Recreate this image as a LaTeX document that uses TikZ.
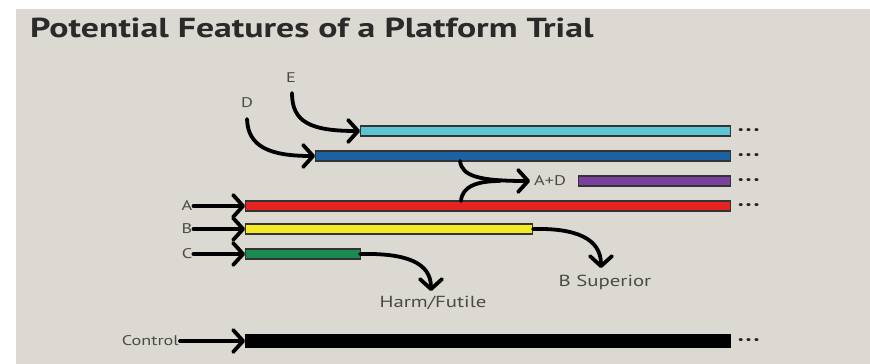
\documentclass[tikz,border=0pt]{standalone}
\usepackage{fontspec}
\setmainfont[FakeStretch=1.3]{PT Sans}
\usetikzlibrary{arrows.meta}
\definecolor{bg}{HTML}{DCD8D2}
\definecolor{ecol}{HTML}{5BC5D3}
\definecolor{dcol}{HTML}{1C62A3}
\definecolor{adcol}{HTML}{7B3F9E}
\definecolor{acol}{HTML}{E52320}
\definecolor{bcol}{HTML}{F2EA22}
\definecolor{ccol}{HTML}{1B8A50}
\definecolor{txt}{HTML}{2A2A2A}
\tikzset{
  bar/.style={draw=black!80, line width=1.3pt, minimum height=10pt, inner sep=0pt, anchor=west},
  arr/.style={line width=3.8pt, line cap=round, -{Straight Barb[length=10pt, width=22pt, line width=3.8pt, line cap=round, line join=round]}},
  lbl/.style={font=\fontsize{14}{16}\selectfont, text=txt!85, inner sep=1pt},
  biglbl/.style={font=\fontsize{16}{18}\selectfont, text=txt!85, inner sep=1pt},
  dots/.style={font=\fontsize{11}{12}\selectfont, anchor=west, inner sep=0pt, text=black!85},
}
\begin{document}
\begin{tikzpicture}[x=1pt,y=-1pt]
\useasboundingbox (0,0) rectangle (870,364);
\fill[white] (0,0) rectangle (870,364);
\fill[bg] (16,9) rectangle (870,364);
\node[anchor=base west, font=\bfseries\fontsize{27.5}{30}\selectfont, text=txt, inner sep=0pt] (title) at (30,37) {Potential Features of a Platform Trial};

% bars
\node[bar, fill=ecol, minimum width=370pt] (Ebar) at (360,131) {};
\node[bar, fill=dcol, minimum width=415pt] (Dbar) at (315,156) {};
\node[bar, fill=adcol, minimum width=152pt] (ADbar) at (578,181) {};
\node[bar, fill=acol, minimum width=485pt] (Abar) at (245,206) {};
\node[bar, fill=bcol, minimum width=287pt] (Bbar) at (245,229) {};
\node[bar, fill=ccol, minimum width=115pt] (Cbar) at (245,254) {};
\node[bar, fill=black, draw=black, minimum height=12pt, minimum width=485pt] (Ctlbar) at (245,341) {};

% dots
\node[dots] (Edots) at ([xshift=6pt]Ebar.east) {\textbullet\hspace{1.5pt}\textbullet\hspace{1.5pt}\textbullet};
\node[dots] (Ddots) at ([xshift=6pt]Dbar.east) {\textbullet\hspace{1.5pt}\textbullet\hspace{1.5pt}\textbullet};
\node[dots] (ADdots) at ([xshift=6pt]ADbar.east) {\textbullet\hspace{1.5pt}\textbullet\hspace{1.5pt}\textbullet};
\node[dots] (Adots) at ([xshift=6pt]Abar.east) {\textbullet\hspace{1.5pt}\textbullet\hspace{1.5pt}\textbullet};
\node[dots] (Ctldots) at ([xshift=6pt]Ctlbar.east) {\textbullet\hspace{1.5pt}\textbullet\hspace{1.5pt}\textbullet};

% labels
\node[lbl] (E) at (291,78) {E};
\node[lbl] (D) at (247,103) {D};
\node[lbl] (A) at (187,206) {A};
\node[lbl] (B) at (187,229) {B};
\node[lbl] (C) at (187,254) {C};
\node[lbl, anchor=west] (AD) at (533,181) {A+D};
\node[biglbl] (Bsup) at (605,282) {B Superior};
\node[biglbl] (Harm) at (433,303) {Harm/Futile};
\node[lbl, anchor=east] (Ctl) at (180,341) {Control};

\coordinate (Estart) at (292,93);
\coordinate (Dstart) at (247,119);
\coordinate (Dsplit) at (460,161);
\coordinate (Asplit) at (461,201);
\coordinate (Bend) at (533,229);
\coordinate (Cend) at (360,254);
\coordinate (Btip) at (601,268);
\coordinate (Ctip) at (431,291);

% arrows
\draw[arr] (Estart) .. controls (292,122) and (310,131) .. (Ebar.west);
\draw[arr] (Dstart) .. controls (248,147) and (270,156) .. (Dbar.west);
\draw[arr] (Dsplit) .. controls (462,176) and (478,181) .. ([xshift=-3pt]AD.west);
\draw[line width=3.8pt, line cap=round] (Asplit) .. controls (462,186) and (478,181) .. (500,181);
\draw[arr] (A.east) -- (Abar.west);
\draw[arr] (B.east) -- (Bbar.west);
\draw[arr] (C.east) -- (Cbar.west);
\draw[arr] (Bend) .. controls (575,228) and (601,238) .. (Btip);
\draw[arr] (Cend) .. controls (405,253) and (431,262) .. (Ctip);
\draw[arr] (Ctl.east) -- (Ctlbar.west);
\end{tikzpicture}
\end{document}
